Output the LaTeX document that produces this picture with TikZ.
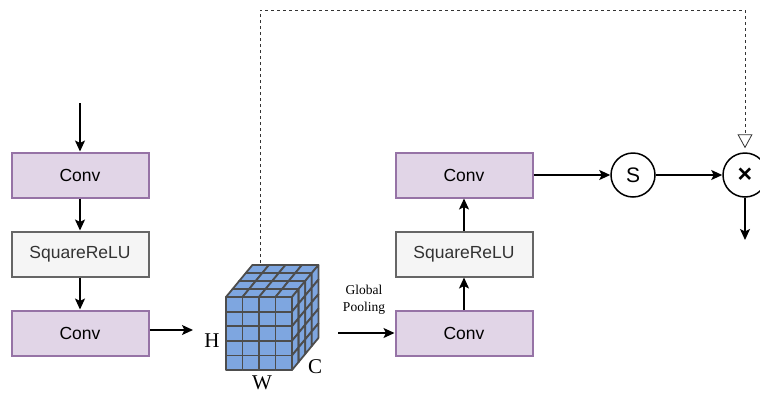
\documentclass[tikz,border=0pt]{standalone}
\usepackage{fontspec}
\setmainfont{Liberation Serif}
\newfontfamily\boxfont{Liberation Sans}
\usetikzlibrary{arrows.meta,positioning}
\definecolor{convfill}{HTML}{E1D5E7}
\definecolor{convdraw}{HTML}{9673A6}
\definecolor{relufill}{HTML}{F5F5F5}
\definecolor{reludraw}{HTML}{666666}
\definecolor{cellblue}{HTML}{7EA6E0}
\definecolor{celledge}{HTML}{4D4D4D}
\tikzset{
  conv/.style={draw=convdraw, fill=convfill, line width=2pt, minimum width=137pt,
    minimum height=45pt, font=\boxfont\fontsize{17.5}{20}\selectfont},
  relu/.style={conv, draw=reludraw, fill=relufill, text=black!80},
  op/.style={circle, draw, line width=1.5pt, minimum size=44pt, inner sep=0pt,
    font=\boxfont\fontsize{21}{22}\selectfont},
  arr/.style={-{Stealth[length=11pt,width=10pt,inset=2.5pt]}, line width=1.5pt},
  cell/.style={fill=cellblue, draw=celledge, line width=1.8pt, line join=round},
  dim/.style={inner sep=0pt, font=\fontsize{21}{22}\selectfont}
}

\begin{document}
\begin{tikzpicture}[x=1pt,y=-1pt]
    \useasboundingbox (0,0) rectangle (760,394);
    \def\cw{16.5}
    \def\ch{14.6}
    \def\dx{6.6}
    \def\dy{-8}
    \node[conv] (conv1) at (80,175) {Conv};
    \node[relu] (relu1) at (80,254) {SquareReLU};
    \node[conv] (conv2) at (80,333) {Conv};
    \node[conv] (conv3) at (464,333.5) {Conv};
    \node[relu] (relu2) at (464,254) {SquareReLU};
    \node[conv] (conv4) at (464,175) {Conv};
    \node[op] (sig) at (633,175) {S};
    \node[op, font=\boxfont\bfseries\fontsize{25}{26}\selectfont] (mul) at (745,175) {×};
    \coordinate (in) at (80,103);
    \coordinate (out) at (745,240);
    \coordinate (cubein) at (193,330);
    \coordinate (cubeout) at (338,333);
    \coordinate (cubetop) at (260,263);
    \coordinate (dashtop) at (745,10);
    \foreach \i in {0,...,3}
      \foreach \k in {0,...,3}
        \filldraw[cell] (226+\i*\cw+\k*\dx, 297+\k*\dy) -- ++(\cw,0) -- ++(\dx,\dy) -- ++(-\cw,0) -- cycle;
    \foreach \k in {0,...,3}
      \foreach \j in {0,...,4}
        \filldraw[cell] (292+\k*\dx, 297+\j*\ch+\k*\dy) -- ++(\dx,\dy) -- ++(0,\ch) -- ++(-\dx,-\dy) -- cycle;
    \foreach \i in {0,...,3}
      \foreach \j in {0,...,4}
        \filldraw[cell] (226+\i*\cw, 297+\j*\ch) rectangle ++(\cw,\ch);
    \node[dim] (hlab) at (212,341) {H};
    \node[dim] (wlab) at (262,383) {W};
    \node[dim] (clab) at (315,367) {C};
    \node[font=\fontsize{13.5}{17}\selectfont, align=center] (gp) at (364,300) {Global\\Pooling};
    \draw[arr] (in) -- (conv1);
    \draw[arr] (conv1) -- (relu1);
    \draw[arr] (relu1) -- (conv2);
    \draw[arr] (conv2.east |- cubein) -- (cubein);
    \draw[arr] (cubeout) -- (conv3.west |- cubeout);
    \draw[arr] (conv3) -- (relu2);
    \draw[arr] (relu2) -- (conv4);
    \draw[arr] (conv4) -- (sig);
    \draw[arr] (sig) -- (mul);
    \draw[arr] (mul) -- (out);
    \draw[black!80, line width=0.8pt, dash pattern=on 3pt off 3pt,
      -{Triangle[open,length=14pt,width=15pt]}, shorten >=4pt]
      (cubetop) |- (dashtop) -- (mul.north);
\end{tikzpicture}
\end{document}
